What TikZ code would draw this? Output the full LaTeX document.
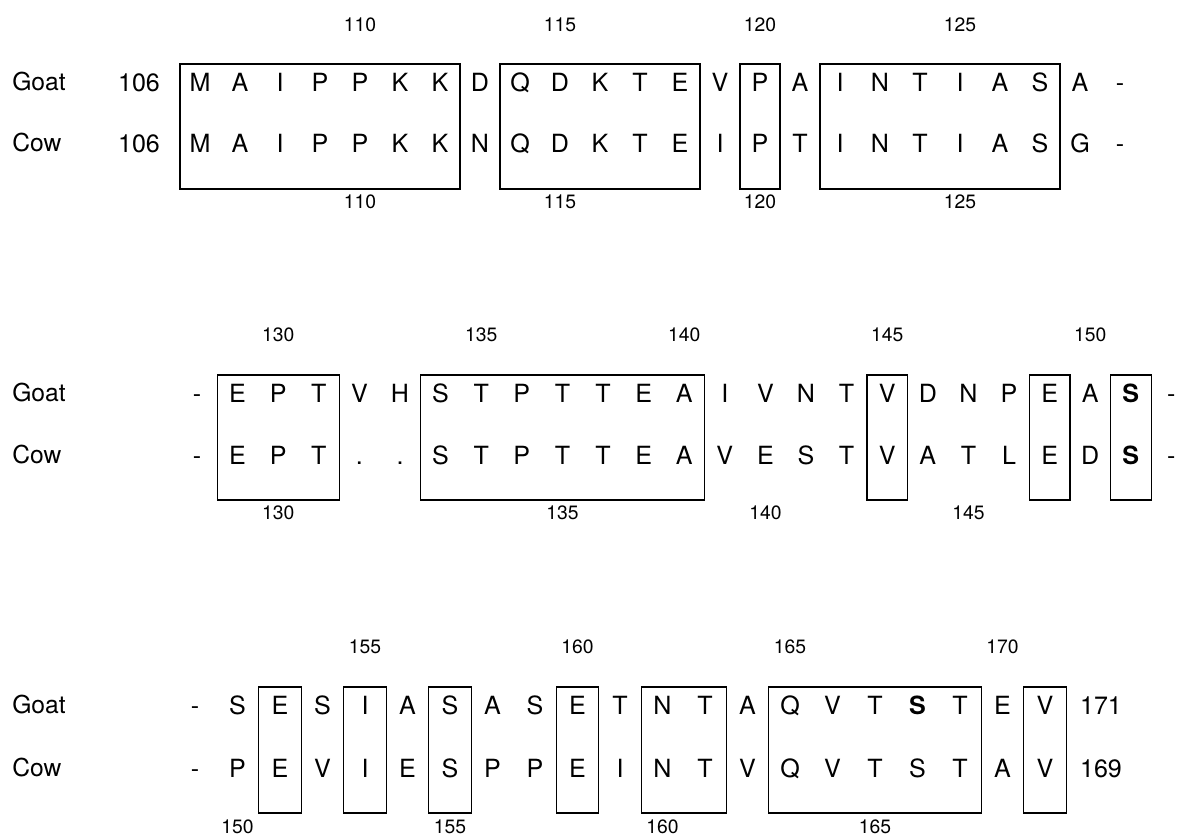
\documentclass[tikz,border=0pt]{standalone}
\usepackage{fontspec}
\setmainfont{TeX Gyre Heros}
\newcommand\boldS{\textbf{S}}
\begin{document}
\begin{tikzpicture}[x=0.75pt,y=-0.75pt,
  res/.style={inner sep=0pt, text height=13.5pt, text depth=0pt, font=\fontsize{18.8}{20}\selectfont},
  num/.style={inner sep=0pt, text height=10.3pt, text depth=0pt, font=\fontsize{14.5}{16}\selectfont},
  lab/.style={inner sep=0pt, anchor=west, text height=13.2pt, text depth=0pt, font=\fontsize{18.5}{20}\selectfont},
  boxline/.style={draw=black, line width=0.9pt}]
\useasboundingbox (0,0) rectangle (1180,836);

% ---------------- Row 1 ----------------
\node[lab] (goatA) at (12,82) {Goat};
\node[lab] (cowA) at (12,143) {Cow};
\node[res] (startGA) at (139,82) {106};
\node[res] (startCA) at (139,143) {106};
\foreach \g/\c [count=\i from 0] in {M/M,A/A,I/I,P/P,P/P,K/K,K/K,D/N,Q/Q,D/D,K/K,T/T,E/E,V/I,P/P,A/T,I/I,N/N,T/T,I/I,A/A,S/S,A/G,-/-}{
  \node[res] (ga\i) at ({200+40*\i},82) {\g};
  \node[res] (ca\i) at ({200+40*\i},143) {\c};
}
\foreach \a/\b in {0/6,8/12,14/14,16/21}
  \draw[boxline] ({200+40*(\a-0.5)},64) rectangle ({200+40*(\b+0.5)},189);
\foreach \n/\i [count=\k] in {110/4,115/9,120/14,125/19}{
  \node[num] (ta\k) at ({200+40*\i},25) {\n};
  \node[num] (ba\k) at ({200+40*\i},202) {\n};
}

% ---------------- Row 2 ----------------
\node[lab] (goatB) at (12,393) {Goat};
\node[lab] (cowB) at (12,455) {Cow};
\foreach \g/\c [count=\i from 0] in {-/-,E/E,P/P,T/T,V/.,H/.,S/S,T/T,P/P,T/T,T/T,E/E,A/A,I/V,V/E,N/S,T/T,V/V,D/A,N/T,P/L,E/E,A/D,\boldS/\boldS,-/-}{
  \node[res] (gb\i) at ({197+40.6*\i},393) {\g};
  \node[res] (cb\i) at ({197+40.6*\i},455) {\c};
}
\foreach \a/\b in {1/3,6/12,17/17,21/21,23/23}
  \draw[boxline] ({197+40.6*(\a-0.5)},375) rectangle ({197+40.6*(\b+0.5)},500);
\foreach \n/\i [count=\k] in {130/2,135/7,140/12,145/17,150/22}
  \node[num] (tb\k) at ({197+40.6*\i},335) {\n};
\foreach \n/\i [count=\k] in {130/2,135/9,140/14,145/19}
  \node[num] (bb\k) at ({197+40.6*\i},513) {\n};

% ---------------- Row 3 ----------------
\node[lab] (goatC) at (12,705) {Goat};
\node[lab] (cowC) at (12,768) {Cow};
\foreach \g/\c [count=\i from 0] in {-/-,S/P,E/E,S/V,I/I,A/E,S/S,A/P,S/P,E/E,T/I,N/N,T/T,A/V,Q/Q,V/V,T/T,\boldS/S,T/T,E/A,V/V}{
  \node[res] (gc\i) at ({195+42.5*\i},705) {\g};
  \node[res] (cc\i) at ({195+42.5*\i},768) {\c};
}
\node[res] (endG) at (1101,705) {171};
\node[res] (endC) at (1101,768) {169};
\foreach \a/\b in {2/2,4/4,6/6,9/9,11/12,14/18,20/20}
  \draw[boxline] ({195+42.5*(\a-0.5)},687) rectangle ({195+42.5*(\b+0.5)},813);
\foreach \n/\i [count=\k] in {155/4,160/9,165/14,170/19}
  \node[num] (tc\k) at ({195+42.5*\i},647) {\n};
\foreach \n/\i [count=\k] in {150/1,155/6,160/11,165/16}
  \node[num] (bc\k) at ({195+42.5*\i},827) {\n};
\end{tikzpicture}
\end{document}
